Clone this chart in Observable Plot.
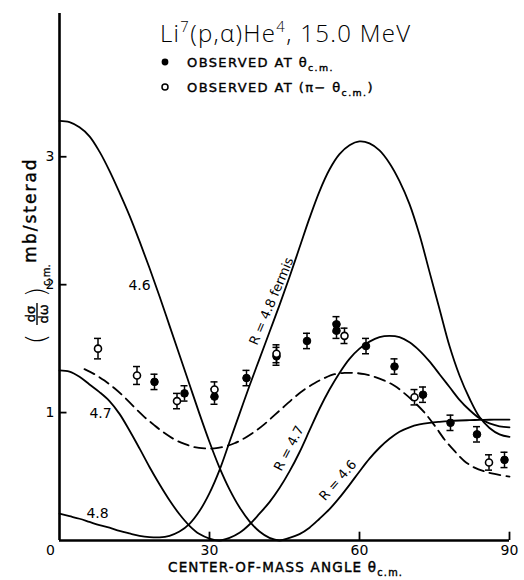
<!DOCTYPE html>
<html><head><meta charset="utf-8">
<script src="https://cdn.jsdelivr.net/npm/d3@7"></script>
<script src="https://cdn.jsdelivr.net/npm/@observablehq/plot@0.6"></script>
<style>
html,body{margin:0;padding:0;background:#fff;}
#chart{width:524px;height:580px;}
</style></head><body><div id="chart"></div>
<script>
// ---- data ----
const curveAngles = [0,2,4,6,8,10,12,14,16,18,20,22,24,26,28,30,32,34,36,38,40,42,44,46,48,50,52,54,56,58,60,62,64,66,68,70,72,74,76,78,80,82,84,86,88,90];
const sigmaR46 = [3.28,3.27,3.23,3.16,3.04,2.89,2.72,2.54,2.34,2.13,1.91,1.68,1.45,1.22,0.99,0.77,0.57,0.40,0.26,0.15,0.07,0.02,0.00,0.02,0.05,0.10,0.17,0.245,0.335,0.435,0.54,0.64,0.725,0.795,0.85,0.885,0.907,0.92,0.928,0.934,0.938,0.941,0.943,0.944,0.945,0.945];
const sigmaR47 = [1.33,1.32,1.28,1.22,1.16,1.09,0.99,0.86,0.72,0.575,0.44,0.315,0.205,0.115,0.05,0.015,0.00,0.02,0.06,0.125,0.21,0.30,0.41,0.54,0.69,0.86,1.03,1.18,1.31,1.42,1.50,1.555,1.59,1.60,1.59,1.55,1.485,1.40,1.30,1.20,1.10,1.02,0.955,0.915,0.893,0.885];
const sigmaR48 = [0.21,0.19,0.17,0.145,0.12,0.10,0.075,0.055,0.037,0.027,0.025,0.037,0.07,0.13,0.23,0.37,0.55,0.77,0.99,1.21,1.42,1.63,1.84,2.06,2.29,2.52,2.73,2.90,3.02,3.09,3.12,3.105,3.05,2.95,2.81,2.63,2.39,2.10,1.81,1.52,1.29,1.11,0.965,0.88,0.83,0.81];
const dashedAngles = [5,7,9,11,13,15,17,19,21,23,25,27,29,31,33,35,37,39,41,43,45,47,49,51,53,55,57,59,61,63,65,67,69,71,73,75,77,79,81,83,85,87,90];
const sigmaDashed = [1.34,1.30,1.25,1.19,1.12,1.04,0.965,0.90,0.84,0.79,0.755,0.73,0.72,0.72,0.735,0.76,0.80,0.85,0.91,0.98,1.05,1.12,1.18,1.23,1.27,1.30,1.31,1.31,1.30,1.28,1.25,1.21,1.15,1.08,1.00,0.90,0.79,0.70,0.62,0.57,0.54,0.52,0.50];

// observed at theta (filled)
const thetaObs = [19.0,25.0,31.0,37.4,43.4,49.5,55.4,55.4,61.3,67.0,72.7,78.2,83.5,89.0];
const sigmaObs = [1.24,1.15,1.125,1.27,1.44,1.56,1.69,1.64,1.52,1.36,1.14,0.92,0.83,0.63];
const errObs   = [0.06,0.06,0.06,0.06,0.07,0.06,0.06,0.06,0.06,0.06,0.06,0.06,0.06,0.06];
// observed at (pi - theta) (open)
const thetaSupp = [7.7,15.5,23.5,31.0,43.4,57.0,71.0,85.9];
const sigmaSupp = [1.50,1.29,1.09,1.18,1.46,1.60,1.12,0.61];
const errSupp   = [0.08,0.07,0.06,0.06,0.07,0.06,0.06,0.06];

const xTicks = [0,30,60,90];
const yTicks = [1,2,3];

const curveLabels = [
  {text:"4.6", x:16.0, y:1.99},
  {text:"4.7", x:8.2, y:0.99},
  {text:"4.8", x:7.6, y:0.21}
];
const rLabels = [
  {text:"R = 4.8 fermis", x:42.4, y:1.87, angle:-67},
  {text:"R = 4.7", x:45.9, y:0.72, angle:-62},
  {text:"R = 4.6", x:55.7, y:0.47, angle:-49}
];

// ---- tables ----
const tbl = (xs, ys) => xs.map((x,i)=>({x, y: ys[i]}));
const r46 = tbl(curveAngles, sigmaR46);
const r47 = tbl(curveAngles, sigmaR47);
const r48 = tbl(curveAngles, sigmaR48);
const dashed = tbl(dashedAngles, sigmaDashed);
const obs = thetaObs.map((x,i)=>({x, y:sigmaObs[i], e:errObs[i]}));
const supp = thetaSupp.map((x,i)=>({x, y:sigmaSupp[i], e:errSupp[i]}));
const pts = obs.concat(supp);

const FONT = "'DejaVu Sans', sans-serif";
const lineStyle = {x:"x", y:"y", curve:"catmull-rom", stroke:"black", strokeWidth:1.8};

const chart = Plot.plot({
  width: 524, height: 580,
  marginLeft: 59, marginRight: 15, marginTop: 13, marginBottom: 40,
  x: {domain:[0,90]},
  y: {domain:[0,4.12]},
  style: {fontFamily: FONT, background:"white", color:"black"},
  marks: [
    Plot.line(r46, lineStyle),
    Plot.line(r47, lineStyle),
    Plot.line(r48, lineStyle),
    Plot.line(dashed, {...lineStyle, strokeDasharray:"11,6"}),
    // error bars
    Plot.ruleX(pts, {x:"x", y1:d=>d.y-d.e, y2:d=>d.y+d.e, stroke:"black", strokeWidth:1.5}),
    Plot.ruleY(pts, {y:d=>d.y+d.e, x1:d=>d.x-0.7, x2:d=>d.x+0.7, stroke:"black", strokeWidth:1.5}),
    Plot.ruleY(pts, {y:d=>d.y-d.e, x1:d=>d.x-0.7, x2:d=>d.x+0.7, stroke:"black", strokeWidth:1.5}),
    Plot.dot(obs, {x:"x", y:"y", r:3.8, fill:"black", stroke:"black", strokeWidth:1}),
    Plot.dot(supp, {x:"x", y:"y", r:3.5, fill:"white", stroke:"black", strokeWidth:1.6}),
    // axes lines and inward ticks
    Plot.ruleX([0], {y1:0, y2:4.12, stroke:"black", strokeWidth:2.6}),
    Plot.ruleY([0], {x1:0, x2:90, stroke:"black", strokeWidth:2.6}),
    Plot.ruleY(yTicks, {x1:0, x2:1.5, stroke:"black", strokeWidth:1.8}),
    Plot.ruleX(xTicks.slice(1), {y1:0, y2:0.065, stroke:"black", strokeWidth:1.8}),
    Plot.axisY(yTicks, {tickSize:0, tickPadding:5, fontSize:14, label:null, tickFormat:d=>String(d)}),
    Plot.axisX(xTicks.slice(1), {tickSize:0, tickPadding:5, fontSize:14, label:null, tickFormat:d=>String(d)}),
    Plot.axisX(xTicks.slice(0,1), {tickSize:0, tickPadding:5, fontSize:14, label:null, dx:-9, tickFormat:d=>String(d)}),
    // curve labels
    Plot.text(curveLabels, {x:"x", y:"y", text:"text", fontSize:14, textAnchor:"middle", fill:"black"}),
    ...rLabels.map(l => Plot.text([l], {x:"x", y:"y", text:"text", rotate:l.angle, fontSize:13, textAnchor:"middle", fill:"black"}))
  ]
});
document.getElementById("chart").appendChild(chart);

// ---- rich text annotations (title, legend, axis titles) ----
const svg = d3.select(chart);
function rich(parent, x, y, parts, size, attrs={}) {
  const t = parent.append("text").attr("x", x).attr("y", y).attr("font-size", size)
    .attr("fill","black").attr("text-anchor","start");
  for (const k in attrs) t.attr(k, attrs[k]);
  let shift = 0;
  for (const p of parts) {
    const ts = t.append("tspan").text(p.t);
    let target = 0, fs = size;
    if (p.sub) { target = size*0.32; fs = size*0.72; }
    if (p.sup) { target = -size*0.42; fs = size*0.62; }
    if (target !== shift) { ts.attr("dy", target - shift); shift = target; }
    if (fs !== size) ts.attr("font-size", fs);
  }
  return t;
}
const g = svg.append("g").attr("font-family", FONT).attr("text-anchor","start");
const pen = {"stroke":"black", "stroke-width":0.4};

// title
rich(g, 160, 42, [{t:"Li"},{t:"7",sup:true},{t:"(p,α)He"},{t:"4",sup:true},{t:", 15.0 MeV"}], 24,
  {"font-family":"'Open Sans', sans-serif", "font-weight":300, "letter-spacing":1.3});
// legend
g.append("circle").attr("cx",165).attr("cy",62).attr("r",3.4).attr("fill","black");
g.append("circle").attr("cx",165).attr("cy",87).attr("r",3).attr("fill","white").attr("stroke","black").attr("stroke-width",1.5);
rich(g, 187, 67, [{t:"OBSERVED AT θ"},{t:"c.m.",sub:true}], 13, {"letter-spacing":1.4, ...pen});
rich(g, 187, 92, [{t:"OBSERVED AT (π− θ"},{t:"c.m.",sub:true},{t:")"}], 13, {"letter-spacing":1.4, ...pen});
// x axis title
rich(g, 168, 572, [{t:"CENTER-OF-MASS ANGLE θ"},{t:"c.m.",sub:true}], 13.5, {"letter-spacing":1.2, ...pen});
// y axis title
g.append("text").attr("transform","translate(36,210) rotate(-90)").attr("text-anchor","middle")
  .attr("font-size",17).attr("letter-spacing",2).attr("stroke","black").attr("stroke-width",0.4)
  .attr("fill","black").text("mb/sterad");
const fr = g.append("g").attr("transform","translate(37,314) rotate(-90)").attr("fill","black");
fr.append("text").attr("x",-25).attr("y",8).attr("text-anchor","middle").attr("font-size",27).attr("font-weight",300).text("(");
fr.append("text").attr("x",0).attr("y",-2.5).attr("text-anchor","middle").attr("font-size",13).attr("stroke","black").attr("stroke-width",0.4).text("dσ");
fr.append("line").attr("x1",-11).attr("x2",11).attr("y1",0).attr("y2",0).attr("stroke","black").attr("stroke-width",1.4);
fr.append("text").attr("x",0).attr("y",11).attr("text-anchor","middle").attr("font-size",13).attr("stroke","black").attr("stroke-width",0.4).text("dω");
fr.append("text").attr("x",22).attr("y",8).attr("text-anchor","middle").attr("font-size",27).attr("font-weight",300).text(")");
fr.append("text").attr("x",28).attr("y",13).attr("text-anchor","start").attr("font-size",10).attr("stroke","black").attr("stroke-width",0.3).text("c.m.");
</script></body></html>
